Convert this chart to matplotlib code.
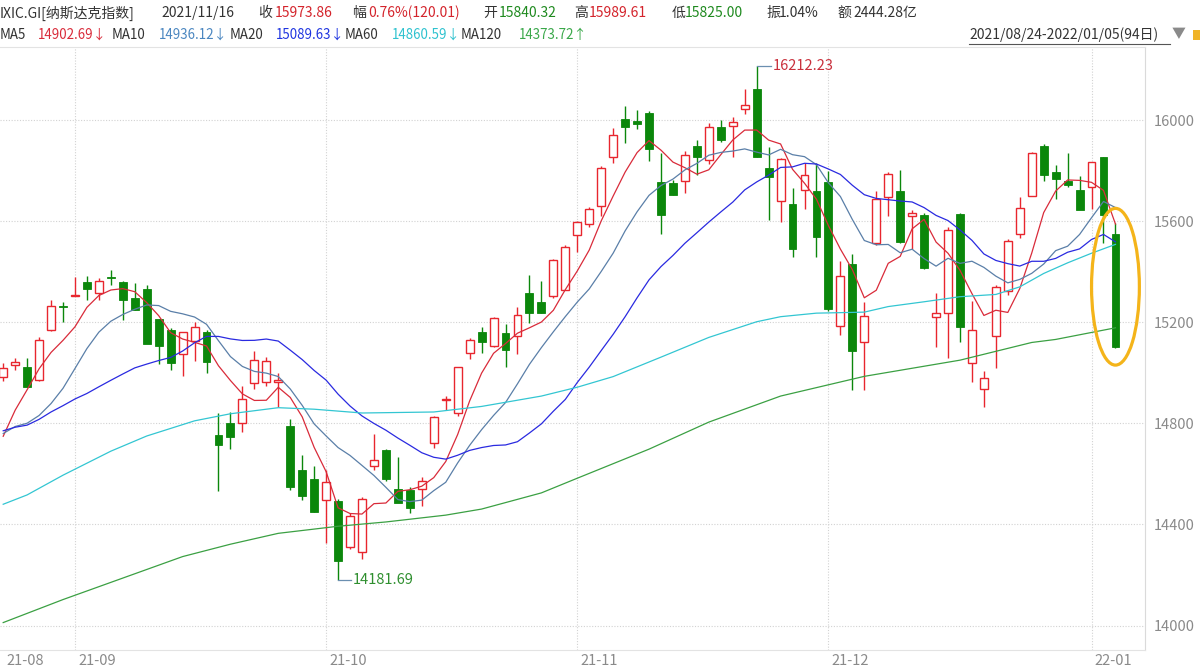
import numpy as np
import pandas as pd
import matplotlib.pyplot as plt
from matplotlib.patches import Ellipse, Rectangle
from matplotlib.lines import Line2D
import matplotlib.transforms as mtransforms

plt.rcParams['font.family'] = ['Noto Sans CJK SC', 'DejaVu Sans']

# -------------------------------------------------------
# DATA  (IXIC daily candles, 2021/08/24 - 2022/01/05, 94 days)
# -------------------------------------------------------
HOLIDAYS = ["2021-09-06", "2021-11-25", "2021-12-24"]
dates = pd.bdate_range("2021-08-24", "2022-01-05")
dates = dates[~dates.isin(pd.to_datetime(HOLIDAYS))]

OPEN = [14985, 15030, 15024, 14972, 15169, 15266, 15305, 15358, 15317, 15380,
        15360, 15296, 15333, 15212, 15169, 15074, 15126, 15163, 14755, 14802,
        14800, 14961, 14964, 14962, 14789, 14615, 14580, 14497, 14493, 14312,
        14290, 14631, 14695, 14539, 14536, 14540, 14721, 14893, 14840, 15077,
        15160, 15107, 15156, 15146, 15317, 15279, 15304, 15328, 15544, 15587,
        15661, 15855, 16003, 15996, 16026, 15756, 15752, 15759, 15897, 15840.32,
        15974, 15976, 16043, 16123, 15811, 15681, 15666, 15723, 15719, 15753,
        15185, 15430, 15121, 15512, 15694, 15720, 15622, 15624, 15219, 15235,
        15628, 15040, 14936, 15146, 15323, 15548, 15701, 15897, 15796, 15760,
        15723, 15736, 15855, 15548]
HIGH = [15040, 15058, 15060, 15143, 15288, 15281, 15380, 15383, 15374, 15406,
        15365, 15354, 15347, 15212, 15176, 15160, 15202, 15169, 14840, 14845,
        14948, 15086, 15064, 15000, 14816, 14675, 14631, 14615, 14501, 14447,
        14510, 14758, 14697, 14665, 14550, 14589, 14829, 14908, 15024, 15136,
        15180, 15219, 15193, 15259, 15387, 15365, 15450, 15504, 15599, 15657,
        15818, 15967, 16057, 16040, 16036, 15868, 15763, 15879, 15921, 15989.61,
        16000, 16013, 16121, 16212.23, 15895, 15848, 15732, 15829, 15829, 15798,
        15442, 15470, 15279, 15720, 15793, 15802, 15644, 15631, 15317, 15575,
        15633, 15285, 15008, 15347, 15528, 15697, 15875, 15904, 15822, 15871,
        15778, 15835, 15855, 15591]
LOW = [14968, 15012, 14942, 14969, 15167, 15202, 15302, 15288, 15288, 15347,
       15209, 15248, 15117, 15035, 15011, 14987, 15048, 14998, 14532, 14697,
       14767, 14935, 14948, 14866, 14536, 14497, 14448, 14325, 14181.69, 14302,
       14262, 14616, 14573, 14488, 14444, 14473, 14701, 14853, 14828, 15053,
       15077, 15101, 15022, 15074, 15198, 15236, 15295, 15328, 15477, 15575,
       15620, 15831, 15908, 15965, 15839, 15548, 15703, 15710, 15782, 15825.00,
       15912, 15852, 16024, 15852, 15604, 15595, 15459, 15648, 15457, 15246,
       15150, 14931, 14931, 15506, 15620, 15515, 15488, 15409, 15101, 15060,
       15123, 14965, 14863, 15018, 15308, 15532, 15699, 15760, 15686, 15734,
       15647, 15647, 15515, 15100]
CLOSE = [15019.80, 15041.86, 14945.81, 15129.50, 15265.89, 15259.24, 15309.38,
         15331.18, 15363.52, 15374.33, 15286.64, 15248.25, 15115.49, 15105.58,
         15037.76, 15161.53, 15181.92, 15043.97, 14713.90, 14746.40, 14896.85,
         15052.24, 15047.70, 14969.97, 14546.68, 14512.44, 14448.58, 14566.70,
         14255.49, 14433.83, 14501.91, 14654.02, 14579.54, 14486.20, 14465.92,
         14571.64, 14823.43, 14897.34, 15021.81, 15129.09, 15121.68, 15215.70,
         15090.20, 15226.71, 15235.84, 15235.71, 15448.12, 15498.39, 15595.92,
         15649.60, 15811.58, 15940.31, 15971.59, 15982.36, 15886.54, 15622.71,
         15704.28, 15860.96, 15853.85, 15973.86, 15921.57, 15993.71, 16057.44,
         15854.76, 15775.14, 15845.23, 15491.66, 15782.83, 15537.69, 15254.05,
         15381.32, 15085.47, 15225.15, 15686.92, 15786.99, 15517.37, 15630.60,
         15413.28, 15237.64, 15565.58, 15180.43, 15169.68, 14980.94, 15341.09,
         15521.89, 15653.37, 15871.26, 15781.72, 15766.22, 15741.56, 15644.97,
         15832.80, 15622.72, 15100.17]

# closes before the window, needed to warm up MA5 / MA10 / MA20
PRIOR_CLOSE = [14762.58, 14778.26, 14672.68, 14681.07, 14761.29, 14780.53,
               14895.12, 14835.76, 14860.18, 14788.09, 14765.14, 14816.26,
               14822.90, 14793.76, 14656.18, 14525.91, 14541.79, 14714.66,
               14942.65]

# long averages
MA60_IDX = [0, 2, 5, 9, 12, 16, 19, 23, 26, 30, 36, 40, 45, 48, 51, 55, 59,
            63, 65, 68, 72, 74, 77, 80, 83, 85, 87, 89, 91, 93]
MA60_VAL = [14480, 14517, 14595, 14690, 14750, 14810, 14838, 14862, 14856,
            14841, 14845, 14867, 14908, 14943, 14985, 15062, 15140, 15202,
            15222, 15236, 15240, 15262, 15281, 15301, 15310, 15340, 15393,
            15435, 15473, 15508]
MA120_IDX = [0, 5, 11, 15, 19, 23, 28, 32, 37, 40, 45, 48, 54, 59, 65, 72,
             80, 86, 88, 93]
MA120_VAL = [14012, 14103, 14205, 14273, 14322, 14365, 14393, 14410, 14437,
             14461, 14525, 14583, 14698, 14805, 14908, 14986, 15050, 15120,
             15132, 15178]

Y_TICKS = [14000, 14400, 14800, 15200, 15600, 16000]

RED = "#e8262e"
GREEN = "#0b870b"
C_MA5 = "#d92b3a"
C_MA10 = "#5a7fa8"
C_MA20 = "#2a2ae0"
C_MA60 = "#33c6d2"
C_MA120 = "#3ba043"

# -------------------------------------------------------
# PLOT
# -------------------------------------------------------
W, H = 1200, 670
fig = plt.figure(figsize=(12, 6.7), dpi=100)
ax = fig.add_axes([0, 1 - 650 / H, 1145 / W, 603 / H])

o = np.array(OPEN, float)
h = np.array(HIGH, float)
l = np.array(LOW, float)
c = np.array(CLOSE, float)
idx = np.arange(len(c))
up = c >= o

ax.vlines(idx[up], l[up], h[up], color=RED, lw=1, zorder=2)
ax.vlines(idx[~up], l[~up], h[~up], color=GREEN, lw=1, zorder=2)
ax.bar(idx[up], np.maximum(c[up] - o[up], 1), bottom=o[up], width=0.66,
       facecolor="white", edgecolor=RED, lw=1, zorder=3)
ax.bar(idx[~up], np.maximum(o[~up] - c[~up], 1), bottom=c[~up], width=0.66,
       facecolor=GREEN, edgecolor=GREEN, lw=0.6, zorder=3)

closes_all = pd.Series(PRIOR_CLOSE + CLOSE)
n = len(c)
for win, col in [(5, C_MA5), (10, C_MA10), (20, C_MA20)]:
    ma = closes_all.rolling(win).mean().values[-n:]
    ax.plot(idx, ma, color=col, lw=0.9, zorder=4)
ax.plot(MA60_IDX, MA60_VAL, color=C_MA60, lw=0.9, zorder=4)
ax.plot(MA120_IDX, MA120_VAL, color=C_MA120, lw=0.9, zorder=4)

# max / min labels
hi_i = int(np.argmax(h))
lo_i = int(np.argmin(l))
ax.plot([hi_i, hi_i + 1.2], [h[hi_i], h[hi_i]], color="#6b8fb0", lw=0.9, zorder=5)
ax.text(hi_i + 1.35, h[hi_i], f"{h[hi_i]:.2f}", color="#c9303c",
        fontsize=10.5, va="center", ha="left")
ax.plot([lo_i, lo_i + 1.1], [l[lo_i], l[lo_i]], color="#6b8fb0", lw=0.9, zorder=5)
ax.text(lo_i + 1.25, l[lo_i], f"{l[lo_i]:.2f}", color="#2f8f2f",
        fontsize=10.5, va="center", ha="left")

# highlight on the last candle
ax.add_patch(Ellipse((n - 1, (h[-1] + l[-1]) / 2 - 5), width=4.0, height=620,
                     fill=False, edgecolor="#f4b41a", lw=2.3, zorder=6))

ax.set_xlim(-0.268, 95.47)
ax.set_ylim(13903.5, 16288.8)

# grid
ax.set_yticks(Y_TICKS)
ax.yaxis.tick_right()
ax.tick_params(axis="y", length=0, pad=6, labelsize=10.5, labelcolor="#8a8a8a")
ax.grid(axis="y", color="#d2d2d2", ls=(0, (1, 1.5)), lw=0.8)
ax.set_xticks([])

month = pd.Series(dates.month)
starts = list(np.where(month.ne(month.shift()).values)[0])
trans = mtransforms.blended_transform_factory(ax.transData, ax.transAxes)
for k, s in enumerate(starts):
    if k > 0:
        ax.axvline(s, color="#d2d2d2", ls=(0, (1, 1.5)), lw=0.8, zorder=0)
    ax.text(s + 0.25, -0.018, dates[s].strftime("%y-%m"), transform=trans,
            fontsize=10.5, color="#8a8a8a", va="center", ha="left",
            clip_on=False)

ax.spines["left"].set_visible(False)
ax.spines["top"].set_color("#e3e3e3")
ax.spines["right"].set_color("#dadada")
ax.spines["bottom"].set_color("#e3e3e3")
for sp in ["top", "right", "bottom"]:
    ax.spines[sp].set_linewidth(0.8)


# header
def htext(x, y, s, color="#333333", size=10, **kw):
    fig.text(x / W, 1 - y / H, s, color=color, fontsize=size,
             va="center", ha="left", **kw)


row1 = [
    (0, "IXIC.GI[纳斯达克指数]", "#333333"),
    (161, "2021/11/16", "#333333"),
    (258, "收", "#333333"), (275, "15973.86", "#d4242c"),
    (352, "幅", "#333333"), (368, "0.76%(120.01)", "#d4242c"),
    (483, "开", "#333333"), (499, "15840.32", "#1f8a1f"),
    (574, "高", "#333333"), (589, "15989.61", "#d4242c"),
    (672, "低", "#333333"), (685, "15825.00", "#1f8a1f"),
    (766, "振", "#333333"), (779, "1.04%", "#333333"),
    (837, "额", "#333333"), (853, "2444.28亿", "#333333"),
]
for x, s, col in row1:
    htext(x, 13, s, col)

row2 = [
    (0, "MA5", "#333333"), (38, "14902.69↓", C_MA5),
    (112, "MA10", "#333333"), (159, "14936.12↓", "#4a86c0"),
    (230, "MA20", "#333333"), (276, "15089.63↓", "#1f35e0"),
    (345, "MA60", "#333333"), (392, "14860.59↓", "#2ec2cf"),
    (461, "MA120", "#333333"), (519, "14373.72↑", "#3aa84a"),
]
for x, s, col in row2:
    htext(x, 35, s, col, size=9.6)

htext(969, 35, "2021/08/24-2022/01/05(94日)", "#333333")
fig.add_artist(Line2D([969 / W, 1170 / W], [1 - 44 / H, 1 - 44 / H],
                      color="#555555", lw=0.8))
htext(1172, 34, "▼", "#8a8a8a")
fig.add_artist(Rectangle((1193 / W, 1 - 40 / H), 7 / W, 10 / H,
                         facecolor="#f0b428", edgecolor="none"))

fig.savefig("out.png", dpi=100)
